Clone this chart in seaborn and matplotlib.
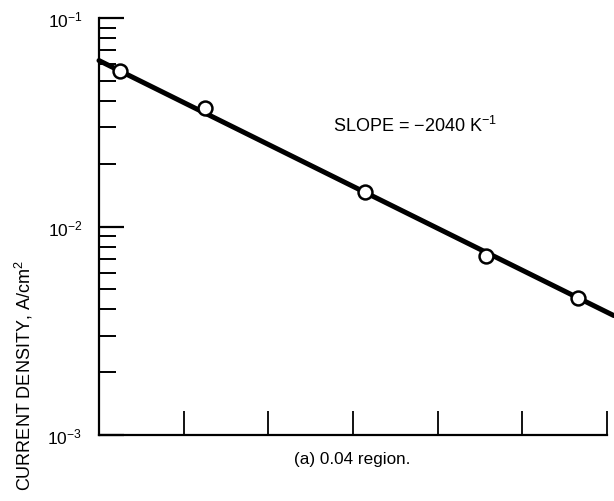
import matplotlib
matplotlib.use("Agg")
import matplotlib.pyplot as plt
import seaborn as sns
import pandas as pd
from matplotlib.ticker import LogLocator, FixedLocator, NullFormatter

# Data
x_points = [0.25, 1.25, 3.14, 4.57, 5.66]
y_points = [0.0557, 0.0370, 0.01463, 0.00722, 0.00454]
line_x = [0.0, 6.08]
line_y = [0.0625, 0.00374]
x_ticks = [1, 2, 3, 4, 5, 6]
y_major = [1e-3, 1e-2, 1e-1]
y_label = "CURRENT DENSITY, A/cm$^2$"
caption = "(a) 0.04 region."
slope_text = "SLOPE = \u22122040 K$^{-1}$"

sns.set_style("ticks")
plt.rcParams["font.family"] = ["Liberation Sans", "DejaVu Sans"]
plt.rcParams["mathtext.fontset"] = "custom"
plt.rcParams["mathtext.rm"] = "Liberation Sans"
plt.rcParams["mathtext.it"] = "Liberation Sans:italic"
plt.rcParams["mathtext.bf"] = "Liberation Sans:bold"
plt.rcParams["text.color"] = "black"
plt.rcParams["xtick.color"] = "black"
plt.rcParams["ytick.color"] = "black"
plt.rcParams["xtick.labelcolor"] = "black"
plt.rcParams["ytick.labelcolor"] = "black"

fig = plt.figure(figsize=(6.14, 5.02), dpi=100)
ax = fig.add_axes([99 / 614, 1 - 436 / 502, (607 - 99) / 614, (436 - 19) / 502])

df_line = pd.DataFrame({"x": line_x, "y": line_y})
df_pts = pd.DataFrame({"x": x_points, "y": y_points})

sns.lineplot(data=df_line, x="x", y="y", ax=ax, color="black", linewidth=3.6,
             clip_on=False, zorder=3)
sns.scatterplot(data=df_pts, x="x", y="y", ax=ax, s=100, facecolor="white",
                edgecolor="black", linewidth=1.8, zorder=4, clip_on=False)

ax.set_yscale("log")
ax.set_xlim(0, 6)
ax.set_ylim(1e-3, 1e-1)

ax.xaxis.set_major_locator(FixedLocator(x_ticks))
ax.xaxis.set_major_formatter(NullFormatter())
ax.yaxis.set_major_locator(FixedLocator(y_major))
ax.yaxis.set_minor_locator(LogLocator(base=10, subs=range(2, 10), numticks=20))
ax.yaxis.set_minor_formatter(NullFormatter())
ax.set_yticklabels(["10$^{-3}$", "10$^{-2}$", "10$^{-1}$"])

ax.tick_params(axis="x", direction="in", length=17, width=1.3, color="black")
ax.tick_params(axis="y", which="major", direction="in", length=18, width=1.6,
               color="black", labelsize=12.5, pad=12, labelcolor="black")
ax.tick_params(axis="y", which="minor", direction="in", length=12.5, width=1.4,
               color="black")

for side in ["top", "right"]:
    ax.spines[side].set_visible(False)
for side in ["left", "bottom"]:
    ax.spines[side].set_linewidth(1.6)
    ax.spines[side].set_color("black")

ax.set_xlabel("")
ax.set_ylabel("")

fig.text(24 / 614, 1 - 376 / 502, y_label, rotation=90, ha="center", va="center",
         fontsize=13, color="black")
fig.text(352 / 614, 1 - 460 / 502, caption, ha="center", va="center", fontsize=12.3,
         color="black")
fig.text(333 / 614, 1 - 132 / 502, slope_text, ha="left", va="baseline", fontsize=13,
         color="black")

fig.savefig("out.png", dpi=100, facecolor="white")
